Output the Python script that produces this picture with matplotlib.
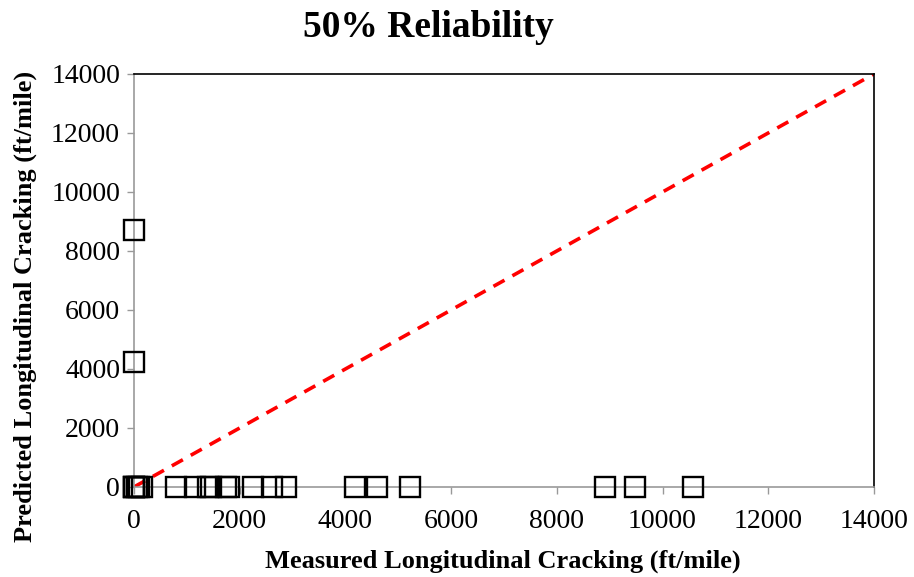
import matplotlib
matplotlib.use("Agg")
import matplotlib.pyplot as plt

# Measured vs predicted longitudinal cracking (ft/mile)
measured = [0, 0, 0, 50, 100, 150, 800, 1150, 1400, 1450, 1750, 1800,
            2250, 2620, 2870, 4180, 4600, 5220, 8910, 9480, 10580, 0, 0]
predicted = [0, 0, 0, 0, 0, 0, 0, 0, 0, 0, 0, 0,
             0, 0, 0, 0, 0, 0, 0, 0, 0, 8700, 4250]
equality = [0, 14000]
ticks = [0, 2000, 4000, 6000, 8000, 10000, 12000, 14000]

serif = ["Liberation Serif", "DejaVu Serif"]

fig = plt.figure(figsize=(9.14, 5.77), dpi=100)
ax = fig.add_axes([0.1466, 0.156, 0.8096, 0.7158])

ax.plot(equality, equality, color="#ff0000", linestyle=(0, (3.5, 2.5)),
        linewidth=2.6, zorder=2)
ax.plot(measured, predicted, linestyle="none", marker="s", markersize=14.5,
        markerfacecolor="none", markeredgecolor="black", markeredgewidth=1.7,
        clip_on=False, zorder=3)

ax.set_xlim(0, 14000)
ax.set_ylim(0, 14000)
ax.set_xticks(ticks)
ax.set_yticks(ticks)
ax.set_xticklabels([str(t) for t in ticks], fontfamily=serif, fontsize=20)
ax.set_yticklabels([str(t) for t in ticks], fontfamily=serif, fontsize=20)
ax.tick_params(axis="both", direction="out", length=5, width=1,
               color="#999999")
ax.tick_params(axis="x", pad=11)
ax.tick_params(axis="y", pad=5)

for side in ("left", "bottom"):
    ax.spines[side].set_color("#999999")
    ax.spines[side].set_linewidth(1.2)
for side in ("top", "right"):
    ax.spines[side].set_color("black")
    ax.spines[side].set_linewidth(1.2)

ax.set_xlabel("Measured Longitudinal Cracking (ft/mile)", fontfamily=serif,
              fontsize=19, fontweight="bold", va="center")
ax.set_ylabel("Predicted Longitudinal Cracking (ft/mile)", fontfamily=serif,
              fontsize=19, fontweight="bold", va="center")
ax.xaxis.set_label_coords(0.499, -0.18)
ax.yaxis.set_label_coords(-0.147, 0.438)
fig.text(0.4685, 0.952, "50% Reliability", fontfamily=serif, fontsize=27,
         fontweight="bold", ha="center", va="center")

fig.savefig("out.png", dpi=100)
